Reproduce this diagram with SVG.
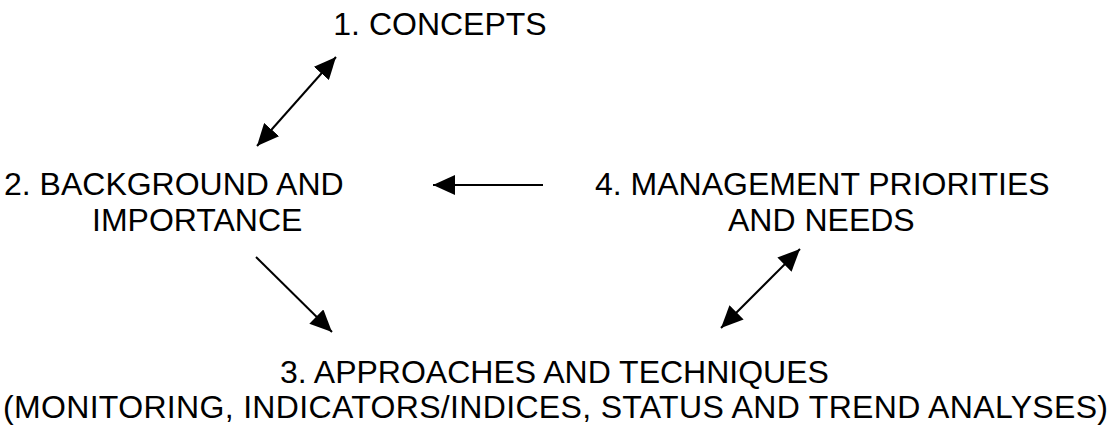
<svg xmlns="http://www.w3.org/2000/svg" width="1115" height="428" viewBox="0 0 1115 428">
  <style>
    .t { font-family: "Liberation Sans", Arial, sans-serif; font-size: 32px; fill: #000; }
    .c { stroke: #000; stroke-width: 2; fill: none; }
  </style>
  <defs>
    <marker id="ah" markerUnits="userSpaceOnUse" markerWidth="22" markerHeight="20" refX="22" refY="10" orient="auto-start-reverse" viewBox="0 0 22 20">
      <path d="M0,0 L22,10 L0,20 z" fill="#000"/>
    </marker>
  </defs>
  <rect width="1115" height="428" fill="#fff"/>
  <g id="node1">
    <text class="t" x="440" y="35" text-anchor="middle">1. CONCEPTS</text>
  </g>
  <g id="node2">
    <text class="t" x="4" y="195">2. BACKGROUND AND</text>
    <text class="t" x="92" y="231">IMPORTANCE</text>
  </g>
  <g id="node4">
    <text class="t" x="595" y="195">4. MANAGEMENT PRIORITIES</text>
    <text class="t" x="728" y="231">AND NEEDS</text>
  </g>
  <g id="node3">
    <text class="t" x="280" y="383">3. APPROACHES AND TECHNIQUES</text>
    <text class="t" x="3" y="418" textLength="1105" lengthAdjust="spacing">(MONITORING, INDICATORS/INDICES, STATUS AND TREND ANALYSES)</text>
  </g>
  <g id="connectors">
    <line class="c" x1="257" y1="146" x2="336" y2="57" marker-start="url(#ah)" marker-end="url(#ah)"/>
    <line class="c" x1="543" y1="185" x2="433" y2="185" marker-end="url(#ah)"/>
    <line class="c" x1="256" y1="257" x2="332" y2="332" marker-end="url(#ah)"/>
    <line class="c" x1="721" y1="328" x2="800" y2="249" marker-start="url(#ah)" marker-end="url(#ah)"/>
  </g>
</svg>
